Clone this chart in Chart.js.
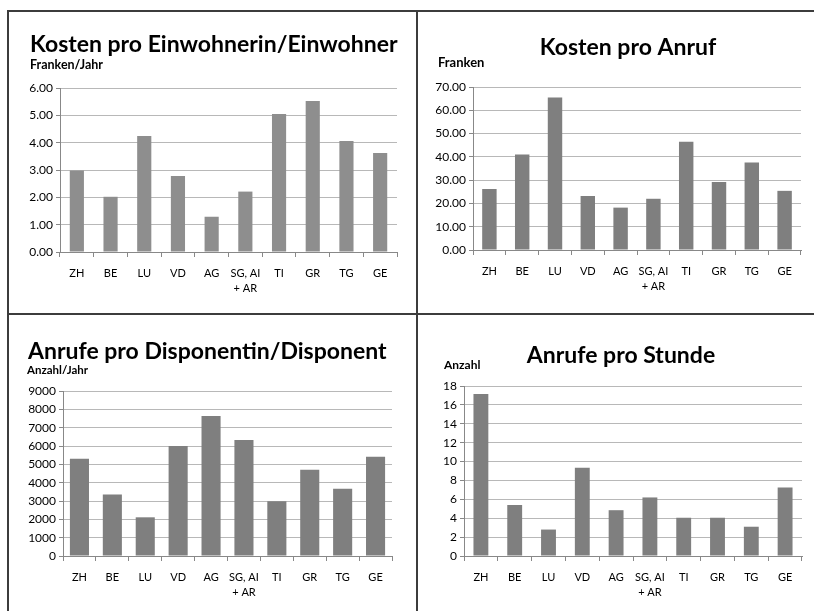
<!DOCTYPE html>
<html>
<head>
<meta charset="utf-8">
<script src="https://cdn.jsdelivr.net/npm/chart.js@4.4.1/dist/chart.umd.min.js"></script>
<style>
  html, body { margin: 0; padding: 0; background: #fff; }
  body { width: 814px; height: 611px; position: relative; overflow: hidden; font-family: Lato, sans-serif; }
  .panel { position: absolute; }
  .panel canvas { display: block; }
  .rule { position: absolute; background: #3c3c3c; z-index: 2; }
</style>
</head>
<body>
<div class="panel" style="left:8px;top:11px;width:409px;height:303px"><canvas id="costPerResident" width="409" height="303"></canvas></div>
<div class="panel" style="left:417px;top:11px;width:397px;height:303px"><canvas id="costPerCall" width="397" height="303"></canvas></div>
<div class="panel" style="left:8px;top:314px;width:409px;height:297px"><canvas id="callsPerDispatcher" width="409" height="297"></canvas></div>
<div class="panel" style="left:417px;top:314px;width:397px;height:297px"><canvas id="callsPerHour" width="397" height="297"></canvas></div>

<div class="rule" style="left:7px;top:10px;width:807px;height:2px"></div>
<div class="rule" style="left:7px;top:10px;width:2px;height:601px"></div>
<div class="rule" style="left:7px;top:313px;width:807px;height:2px"></div>
<div class="rule" style="left:416px;top:10px;width:2px;height:601px"></div>

<script>
// Cantons / regions on the category axis
const categories = ['ZH', 'BE', 'LU', 'VD', 'AG', ['SG, AI', '+ AR'], 'TI', 'GR', 'TG', 'GE'];

// Kosten pro Einwohnerin/Einwohner (Franken/Jahr)
const kostenProEinwohner = [2.98, 2.02, 4.24, 2.78, 1.29, 2.21, 5.05, 5.52, 4.06, 3.62];
// Kosten pro Anruf (Franken)
const kostenProAnruf = [26.2, 41.0, 65.5, 23.2, 18.2, 22.0, 46.5, 29.2, 37.6, 25.4];
// Anrufe pro Disponentin/Disponent (Anzahl/Jahr)
const anrufeProDisponent = [5300, 3350, 2110, 6000, 7640, 6330, 2990, 4700, 3670, 5410];
// Anrufe pro Stunde (Anzahl)
const anrufeProStunde = [17.15, 5.4, 2.8, 9.35, 4.85, 6.2, 4.05, 4.05, 3.1, 7.25];

const FONT = 'Lato, "Open Sans", sans-serif';
const GRID = '#b8b8b8';
const AXIS = '#888888';

// Draws the heading and the unit caption of each panel
const headingPlugin = {
  id: 'heading',
  afterDraw(chart, args, opts) {
    const ctx = chart.ctx;
    ctx.save();
    ctx.fillStyle = '#000';
    ctx.textBaseline = 'alphabetic';
    for (const t of opts.items || []) {
      ctx.font = 'bold ' + t.size + 'px ' + FONT;
      ctx.textAlign = t.align || 'left';
      ctx.fillText(t.text, t.x, t.y);
    }
    ctx.restore();
  }
};

function barChart(id, p) {
  return new Chart(document.getElementById(id), {
    type: 'bar',
    data: {
      labels: categories,
      datasets: [{
        data: p.values,
        backgroundColor: p.color,
        borderWidth: 0,
        categoryPercentage: 1,
        barPercentage: p.barPct
      }]
    },
    plugins: [headingPlugin],
    options: {
      responsive: false,
      animation: false,
      events: [],
      layout: { padding: p.padding },
      plugins: {
        legend: { display: false },
        tooltip: { enabled: false },
        heading: { items: p.headings }
      },
      scales: {
        x: {
          ticks: {
            color: '#000',
            font: { family: FONT, size: 11, lineHeight: 1.45 },
            padding: p.xPad,
            maxRotation: 0,
            autoSkip: false
          },
          grid: { offset: true, drawOnChartArea: false, drawTicks: true, tickLength: 5, tickColor: AXIS },
          border: { color: AXIS, width: 1 },
          afterFit(s) { s.height = p.xHeight; }
        },
        y: {
          min: 0,
          max: p.max,
          ticks: {
            stepSize: p.step,
            color: '#000',
            font: { family: FONT, size: 12 },
            padding: 3,
            callback: v => v.toFixed(p.decimals)
          },
          grid: { color: GRID, tickColor: AXIS, tickLength: 4, lineWidth: 1 },
          border: { color: AXIS, width: 1 },
          afterFit(s) { s.width = p.yWidth; }
        }
      }
    }
  });
}

barChart('costPerResident', {
  values: kostenProEinwohner, color: '#8e8e8e', barPct: 0.42,
  max: 6, step: 1, decimals: 2,
  yWidth: 52, xHeight: 55, xPad: 8,
  padding: { left: 0, right: 20, top: 77, bottom: 7 },
  headings: [
    { text: 'Kosten pro Einwohnerin/Einwohner', x: 22, y: 41, size: 23 },
    { text: 'Franken/Jahr', x: 22, y: 58, size: 12.5 }
  ]
});

barChart('costPerCall', {
  values: kostenProAnruf, color: '#7f7f7f', barPct: 0.44,
  max: 70, step: 10, decimals: 2,
  yWidth: 56, xHeight: 55, xPad: 8,
  padding: { left: 0, right: 13, top: 76, bottom: 9 },
  headings: [
    { text: 'Kosten pro Anruf', x: 211, y: 44, size: 23, align: 'center' },
    { text: 'Franken', x: 21, y: 56, size: 13 }
  ]
});

barChart('callsPerDispatcher', {
  values: anrufeProDisponent, color: '#7f7f7f', barPct: 0.58,
  max: 9000, step: 1000, decimals: 0,
  yWidth: 55, xHeight: 48, xPad: 8,
  padding: { left: 0, right: 25, top: 77, bottom: 7 },
  headings: [
    { text: 'Anrufe pro Disponentin/Disponent', x: 20, y: 45, size: 23 },
    { text: 'Anzahl/Jahr', x: 19, y: 60, size: 11.5 }
  ]
});

barChart('callsPerHour', {
  values: anrufeProStunde, color: '#7f7f7f', barPct: 0.44,
  max: 18, step: 2, decimals: 0,
  yWidth: 47, xHeight: 48, xPad: 8,
  padding: { left: 0, right: 12, top: 72, bottom: 7 },
  headings: [
    { text: 'Anrufe pro Stunde', x: 204, y: 49, size: 23, align: 'center' },
    { text: 'Anzahl', x: 27, y: 55, size: 12 }
  ]
});
</script>
</body>
</html>
